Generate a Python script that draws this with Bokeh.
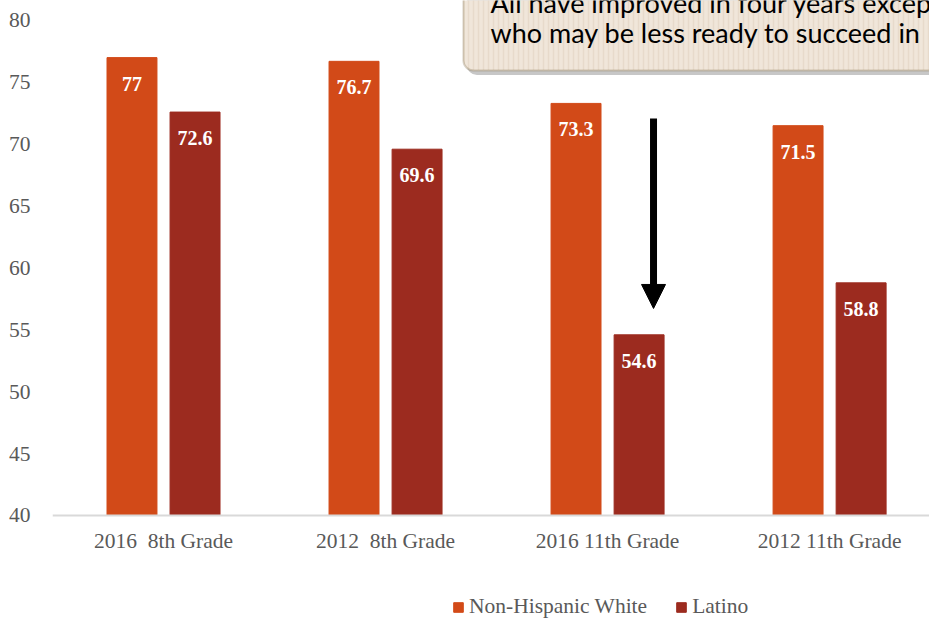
from bokeh.plotting import figure
from bokeh.models import (Range1d, FixedTicker, BoxAnnotation, Arrow, NormalHead,
                          ColumnDataSource, Legend, LegendItem)
from bokeh.core.properties import value
from bokeh.embed import file_html
from bokeh.resources import INLINE

categories = ["2016  8th Grade", "2012  8th Grade", "2016 11th Grade", "2012 11th Grade"]
nhw = [77, 76.7, 73.3, 71.5]
latino = [72.6, 69.6, 54.6, 58.8]
y_ticks = [40, 45, 50, 55, 60, 65, 70, 75, 80]
series_names = ["Non-Hispanic White", "Latino"]
note_lines = ["All have improved in four years excep", "who may be less ready to succeed in"]

ORANGE = "#D24A18"
DARKRED = "#9C2B1F"
SERIF = "Liberation Serif"
GREY = "#595959"
FS = "21.5px"

# frame covers the full height; the x axis sits at y=40 inside the frame
p = figure(width=929, height=620, output_backend="svg", toolbar_location=None,
           x_range=Range1d(0, 3.950), y_range=Range1d(31.515, 81.616),
           min_border_left=52, min_border_right=0, min_border_top=0, min_border_bottom=0)
p.outline_line_color = None
p.xgrid.visible = False
p.ygrid.visible = False

centers = [i + 0.5 for i in range(len(categories))]
off = 0.142
bw = 0.225
src1 = ColumnDataSource(dict(x=[c - off for c in centers], top=nhw,
                             lab=[f"{v:g}" for v in nhw]))
src2 = ColumnDataSource(dict(x=[c + off for c in centers], top=latino,
                             lab=[f"{v:g}" for v in latino]))

r1 = p.vbar(x="x", top="top", bottom=40, width=bw, source=src1, fill_color=ORANGE,
            line_color=ORANGE)
r2 = p.vbar(x="x", top="top", bottom=40, width=bw, source=src2, fill_color=DARKRED,
            line_color=DARKRED)

for s in (src1, src2):
    p.text(x="x", y="top", text="lab", source=s, text_color="white",
           text_font=value(SERIF), text_font_style="bold", text_font_size="20px",
           text_align="center", text_baseline="middle", y_offset=26)

# axes
p.yaxis.ticker = FixedTicker(ticks=y_ticks)
p.yaxis.axis_line_color = None
p.yaxis.major_tick_line_color = None
p.yaxis.minor_tick_line_color = None
p.yaxis.major_label_text_font = SERIF
p.yaxis.major_label_text_font_size = FS
p.yaxis.major_label_text_color = GREY
p.yaxis.major_label_standoff = 16

p.xaxis.fixed_location = 40
p.xaxis.ticker = FixedTicker(ticks=centers)
p.xaxis.major_label_overrides = {c: cat.replace("  ", "\u00a0 ")
                                 for c, cat in zip(centers, categories)}
p.xaxis.axis_line_color = "#D9D9D9"
p.xaxis.axis_line_width = 2
p.xaxis.major_tick_line_color = None
p.xaxis.minor_tick_line_color = None
p.xaxis.major_label_text_font = SERIF
p.xaxis.major_label_text_font_size = FS
p.xaxis.major_label_text_color = GREY
p.xaxis.major_label_standoff = 8

# callout box
shadow = BoxAnnotation(left=1.866, right=6, bottom=75.6, top=90, fill_color="black",
                       fill_alpha=0.22, line_color=None, border_radius=10, level="underlay")
box = BoxAnnotation(left=1.851, right=6, bottom=75.96, top=90, fill_color="#F0E6DA",
                    fill_alpha=1, line_color="#7F6A47", line_width=2, border_radius=10,
                    hatch_pattern="|", hatch_color="#E7DACB", hatch_scale=5,
                    hatch_weight=1.5, level="underlay")
p.add_layout(shadow)
p.add_layout(box)
p.text(x=[1.973, 1.973], y=[81.45, 79.03], text=note_lines, text_color="black",
       text_font=value("Lato"), text_font_size="27px", text_baseline="middle")

# arrow
p.add_layout(Arrow(x_start=2.707, y_start=72.08, x_end=2.707, y_end=56.73,
                   line_width=7, line_color="black",
                   end=NormalHead(size=24, fill_color="black", line_color="black")))

# legend inside the (tall) frame, near its bottom
lg = Legend(items=[LegendItem(label=series_names[0], renderers=[r1]),
                   LegendItem(label=series_names[1], renderers=[r2])],
            orientation="horizontal", location=(400, 1))
lg.border_line_color = None
lg.background_fill_alpha = 0
lg.padding = 0
lg.margin = 0
lg.spacing = 28
lg.glyph_width = 12
lg.glyph_height = 12
lg.label_standoff = 5
lg.label_text_font = SERIF
lg.label_text_font_size = FS
lg.label_text_color = GREY
p.add_layout(lg)

open("out.html", "w").write(file_html(p, INLINE))
